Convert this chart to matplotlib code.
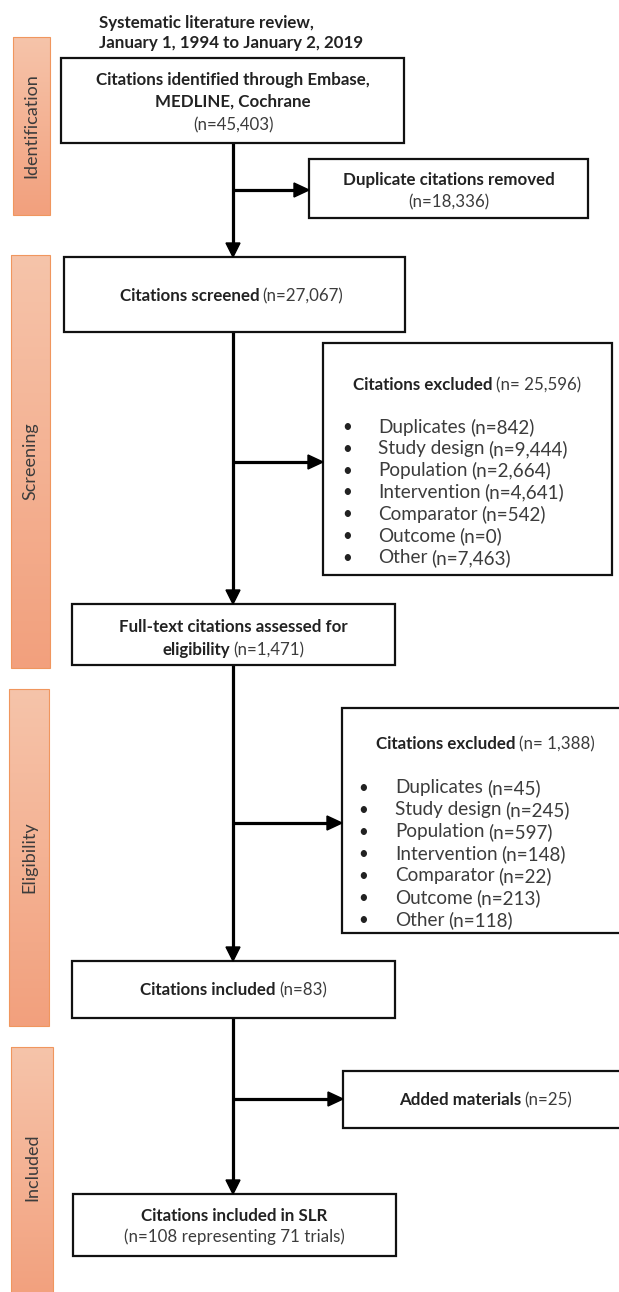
import numpy as np
import matplotlib
matplotlib.use("Agg")
import matplotlib.pyplot as plt
from matplotlib.patches import Rectangle, Polygon
from matplotlib.colors import LinearSegmentedColormap

# ---------------- data ----------------
title_lines = ["Systematic literature review,", "January 1, 1994 to January 2, 2019"]
stages = ["Identification", "Screening", "Eligibility", "Included"]

n_identified = 45403
n_duplicates_removed = 18336
n_screened = 27067
n_excluded_screen = 25596
n_fulltext = 1471
n_excluded_full = 1388
n_included = 83
n_added = 25
n_final = 108
n_trials = 71

reasons = ["Duplicates", "Study design", "Population", "Intervention",
           "Comparator", "Outcome", "Other"]
screen_excl_counts = [842, 9444, 2664, 4641, 542, 0, 7463]
full_excl_counts = [45, 245, 597, 148, 22, 213, 118]

# ---------------- figure ----------------
W, H = 619, 1292
fig = plt.figure(figsize=(W / 100, H / 100), dpi=100)
ax = fig.add_axes([0, 0, 1, 1])
ax.set_axis_off()

FONT = "Lato"
FS = 12.2
FS_ITEM = 13.6
C_BOLD = "#222222"
C_REG = "#3c3c3c"
renderer = fig.canvas.get_renderer()


def measure(s, weight, fs):
    t = ax.text(0, 0, s, fontsize=fs, fontfamily=FONT, fontweight=weight)
    w = t.get_window_extent(renderer).width
    t.remove()
    return w


def rich(x, y, parts, ha="center", fs=FS):
    """parts: list of (text, weight); drawn on one line, separated by a space."""
    gap = 0.8 * (measure("n n", "normal", fs) - measure("nn", "normal", fs))
    widths = [measure(s, w, fs) for s, w in parts]
    total = sum(widths) + gap * (len(parts) - 1)
    x0 = x - total / 2 if ha == "center" else x
    for (s, w), wd in zip(parts, widths):
        ax.text(x0, y, s, fontsize=fs, fontfamily=FONT, fontweight=w,
                color=C_BOLD if w == "bold" else C_REG, ha="left", va="center")
        x0 += wd + gap


def box(x0, y0, x1, y1):
    ax.add_patch(Rectangle((x0, y0), x1 - x0, y1 - y0, facecolor="white",
                           edgecolor="#111111", linewidth=1.6, zorder=3))


def cx(x0, x1):
    return (x0 + x1) / 2


LW = 2.3


def down_arrow(x, y0, y1):
    ax.plot([x, x], [y0, y1 - 12], color="black", lw=LW, solid_capstyle="butt", zorder=2)
    ax.add_patch(Polygon([[x - 7, y1 - 14], [x + 7, y1 - 14], [x, y1]],
                         closed=True, color="black", zorder=4))


def right_arrow(y, x0, x1):
    ax.plot([x0, x1 - 12], [y, y], color="black", lw=LW, solid_capstyle="butt", zorder=2)
    ax.add_patch(Polygon([[x1 - 15, y - 7], [x1 - 15, y + 7], [x1, y]],
                         closed=True, color="black", zorder=4))


# ---------------- side stage bars ----------------
cmap = LinearSegmentedColormap.from_list("stage", ["#f6c4aa", "#f2a07d"])
grad = np.linspace(0, 1, 256).reshape(-1, 1)
bars = [(13, 37, 50, 215), (11, 255, 50, 668), (9, 689, 49, 1026), (11, 1047, 53, 1300)]
for (x0, y0, x1, y1), lab in zip(bars, stages):
    ax.imshow(grad, cmap=cmap, extent=[x0, x1, y1, y0], origin="upper",
              aspect="auto", zorder=1)
    ax.add_patch(Rectangle((x0, y0), x1 - x0, y1 - y0, facecolor="none",
                           edgecolor="#f0965e", linewidth=0.8, zorder=2))
    ax.text(cx(x0, x1), (y0 + min(y1, 1292)) / 2 if lab != "Included" else 1167,
            lab, rotation=90, fontsize=13, fontfamily=FONT, color=C_REG,
            ha="center", va="center", zorder=3)

ax.set_xlim(0, W)
ax.set_ylim(H, 0)

# ---------------- title ----------------
for i, line in enumerate(title_lines):
    ax.text(99, 23 + 20 * i, line, fontsize=FS, fontfamily=FONT, fontweight="bold",
            color=C_BOLD, ha="left", va="center")

MX = 233  # main flow line x

# top box
b = (61, 58, 404, 143)
box(*b)
rich(233, 80, [("Citations identified through Embase,", "bold")])
rich(233, 102, [("MEDLINE, Cochrane", "bold")])
rich(233, 125, [(f"(n={n_identified:,})", "normal")])

# duplicates removed
b = (309, 159, 588, 218)
box(*b)
rich(cx(b[0], b[2]), 180, [("Duplicate citations removed", "bold")])
rich(cx(b[0], b[2]), 202, [(f"(n={n_duplicates_removed:,})", "normal")])
right_arrow(190, MX, b[0])

# screened
b = (64, 257, 405, 332)
down_arrow(MX, 143, b[1])
box(*b)
rich(cx(b[0], b[2]) - 3, 296, [("Citations screened", "bold"), (f"(n={n_screened:,})", "normal")])

# excluded at screening
b = (323, 343, 612, 575)
box(*b)
rich(cx(b[0], b[2]), 385, [("Citations excluded", "bold"), (f"(n= {n_excluded_screen:,})", "normal")])
for i, (r, c) in enumerate(zip(reasons, screen_excl_counts)):
    yy = 427 + i * 21.8
    ax.text(347, yy, "\u2022", fontsize=FS, fontfamily=FONT, color=C_BOLD, ha="center", va="center", zorder=5)
    rich(378, yy, [(r, "normal"), (f"(n={c:,})", "normal")], ha="left", fs=FS_ITEM)
right_arrow(462, MX, b[0])

# full text
b = (72, 604, 395, 665)
down_arrow(MX, 332, b[1])
box(*b)
rich(cx(b[0], b[2]), 627, [("Full-text citations assessed for", "bold")])
rich(cx(b[0], b[2]), 650, [("eligibility", "bold"), (f"(n={n_fulltext:,})", "normal")])

# excluded at full text
b = (342, 708, 628, 933)
box(*b)
rich(cx(b[0], b[2]), 744, [("Citations excluded", "bold"), (f"(n= {n_excluded_full:,})", "normal")])
for i, (r, c) in enumerate(zip(reasons, full_excl_counts)):
    yy = 788 + i * 22
    ax.text(363, yy, "\u2022", fontsize=FS, fontfamily=FONT, color=C_BOLD, ha="center", va="center", zorder=5)
    rich(395, yy, [(r, "normal"), (f"(n={c:,})", "normal")], ha="left", fs=FS_ITEM)
right_arrow(823, MX, b[0])

# included
b = (72, 961, 395, 1018)
down_arrow(MX, 665, b[1])
box(*b)
rich(cx(b[0], b[2]), 990, [("Citations included", "bold"), (f"(n={n_included:,})", "normal")])

# added materials
b = (343, 1071, 628, 1128)
box(*b)
rich(cx(b[0], b[2]), 1100, [("Added materials", "bold"), (f"(n={n_added:,})", "normal")])
right_arrow(1099, MX, b[0])

# final
b = (73, 1194, 396, 1256)
down_arrow(MX, 1018, b[1])
box(*b)
rich(cx(b[0], b[2]), 1216, [("Citations included in SLR", "bold")])
rich(cx(b[0], b[2]), 1237, [(f"(n={n_final} representing {n_trials} trials)", "normal")])

fig.savefig("out.png", dpi=100)
